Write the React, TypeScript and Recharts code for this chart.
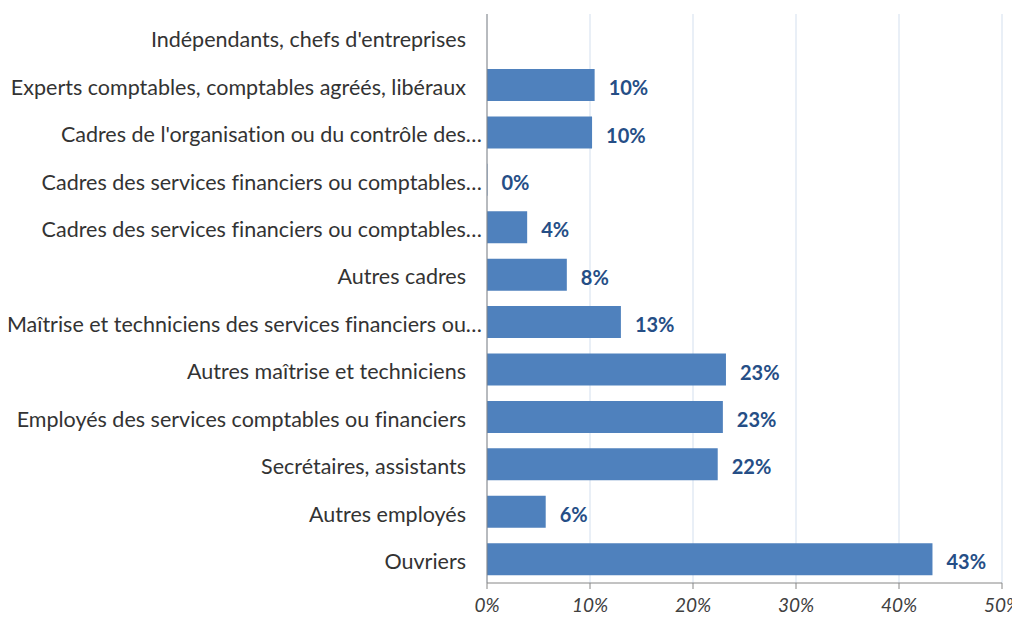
import React from 'react';
import { BarChart, Bar, XAxis, YAxis, CartesianGrid, LabelList } from 'recharts';

const categories = [
  "Indépendants, chefs d'entreprises",
  'Experts comptables, comptables agréés, libéraux',
  "Cadres de l'organisation ou du contrôle des…",
  'Cadres des services financiers ou comptables…',
  'Cadres des services financiers ou comptables…',
  'Autres cadres',
  'Maîtrise et techniciens des services financiers ou…',
  'Autres maîtrise et techniciens',
  'Employés des services comptables ou financiers',
  'Secrétaires, assistants',
  'Autres employés',
  'Ouvriers',
];

const values: (number | null)[] = [null, 10.45, 10.2, 0.04, 3.9, 7.75, 13.0, 23.2, 22.9, 22.4, 5.7, 43.25];
const valueLabels = ['', '10%', '10%', '0%', '4%', '8%', '13%', '23%', '23%', '22%', '6%', '43%'];
const xTicks = [0, 10, 20, 30, 40, 50];

const data = categories.map((c, i) => ({
  idx: i,
  name: c,
  value: values[i],
  label: valueLabels[i],
}));

const FONT = 'Lato, "Open Sans", sans-serif';

const CategoryTick = (props: any) => {
  const { x, y, payload } = props;
  const text = categories[payload.value];
  const truncated = text.endsWith('…');
  return (
    <text
      x={x + (truncated ? 16 : 0)}
      y={y + 2}
      dy="0.355em"
      textAnchor="end"
      fill="#333333"
      fontSize={21.5}
      fontFamily={FONT}
      style={{ fontVariantLigatures: 'none', fontFeatureSettings: '"liga" 0' }}
    >
      {text}
    </text>
  );
};

export default function App() {
  return (
    <div style={{ margin: -8, width: 1020, height: 621, background: '#fff' }}>
      <BarChart
        width={1020}
        height={621}
        data={data}
        layout="vertical"
        margin={{ top: 14, right: 18, bottom: 0, left: 0 }}
        barCategoryGap="16%"
      >
        <CartesianGrid horizontal={false} stroke="#D3DFEE" strokeWidth={1} />
        <XAxis
          type="number"
          domain={[0, 50]}
          ticks={xTicks}
          tickFormatter={(v: number) => `${v}%`}
          axisLine={{ stroke: '#868686' }}
          tickLine={{ stroke: '#868686' }}
          tickSize={6}
          tickMargin={10}
          height={38}
          interval={0}
          tick={{ fill: '#404040', fontSize: 19, fontStyle: 'italic', fontFamily: FONT }}
        />
        <YAxis
          type="category"
          dataKey="idx"
          width={487}
          axisLine={{ stroke: '#868686' }}
          tickLine={false}
          tickSize={0}
          tickMargin={21}
          interval={0}
          tick={<CategoryTick />}
        />
        <Bar dataKey="value" fill="#4F81BD" isAnimationActive={false}>
          <LabelList
            dataKey="label"
            position="right"
            offset={14}
            dy={3}
            style={{ fill: '#254E86', fontSize: 20, fontWeight: 700, fontFamily: FONT }}
          />
        </Bar>
      </BarChart>
    </div>
  );
}
